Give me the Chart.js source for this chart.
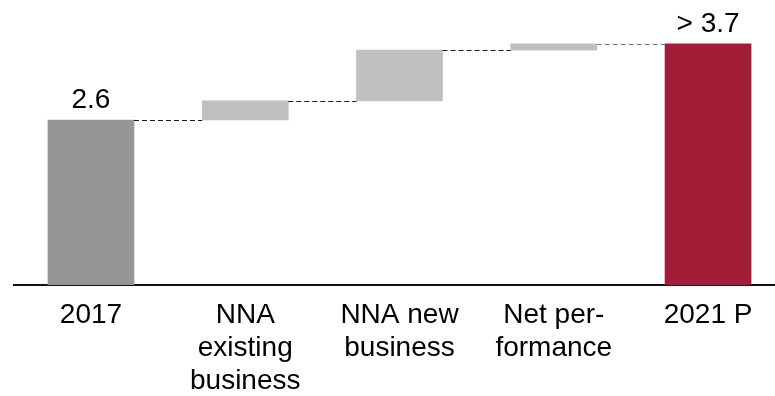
<!DOCTYPE html>
<html>
<head>
<meta charset="utf-8">
<script src="https://cdn.jsdelivr.net/npm/chart.js@4/dist/chart.umd.min.js"></script>
<style>
  html, body { margin: 0; padding: 0; background: #ffffff; }
  #wrap { width: 775px; height: 396px; }
</style>
</head>
<body>
<div id="wrap"><canvas id="chart" width="775" height="396"></canvas></div>
<script>
// Waterfall: starting volume, contributions, target volume
const categories = [
  ['2017'],
  ['NNA', 'existing', 'business'],
  ['NNA new', 'business'],
  ['Net per-', 'formance'],
  ['2021 P']
];
const startValue = 2.6;
const changes = [0.3, 0.8, 0.1];
const endValue = 3.8;
const valueLabels = ['2.6', '', '', '', '> 3.7'];
const barColors = ['#969696', '#bfbfbf', '#bfbfbf', '#bfbfbf', '#a11d38'];

// Floating segments [from, to] for every column
const segments = [[0, startValue]];
let running = startValue;
for (const c of changes) {
  segments.push([running, running + c]);
  running += c;
}
segments.push([0, endValue]);

const points = segments.map((s, i) => ({ x: i, y: s }));
const FONT = 'Liberation Sans, Arial, Helvetica, sans-serif';

// Dashed connectors between neighbouring columns and value labels above bars
const waterfallDecor = {
  id: 'waterfallDecor',
  afterDatasetsDraw(chart) {
    const ctx = chart.ctx;
    const meta = chart.getDatasetMeta(0);
    const ys = chart.scales.y;
    ctx.save();
    ctx.lineWidth = 1;
    ctx.setLineDash([5, 3]);
    for (let i = 0; i < segments.length - 1; i++) {
      const a = meta.data[i], b = meta.data[i + 1];
      const level = Math.max(segments[i][0], segments[i][1]);
      const py = Math.round(ys.getPixelForValue(level)) + 0.5;
      ctx.strokeStyle = i === segments.length - 2 ? '#777777' : '#1a1a1a';
      ctx.beginPath();
      ctx.moveTo(a.x + a.width / 2, py);
      ctx.lineTo(b.x - b.width / 2, py);
      ctx.stroke();
    }
    ctx.setLineDash([]);
    ctx.fillStyle = '#000000';
    ctx.font = '28px ' + FONT;
    ctx.textAlign = 'center';
    ctx.textBaseline = 'alphabetic';
    valueLabels.forEach((t, i) => {
      if (!t) return;
      const bar = meta.data[i];
      const top = ys.getPixelForValue(Math.max(segments[i][0], segments[i][1]));
      ctx.fillText(t, bar.x, top - 12);
    });
    ctx.restore();
  }
};

new Chart(document.getElementById('chart'), {
  type: 'bar',
  data: {
    datasets: [{
      data: points,
      backgroundColor: barColors,
      borderWidth: 0,
      borderSkipped: false,
      barThickness: 86
    }]
  },
  options: {
    responsive: false,
    animation: false,
    events: [],
    layout: { padding: { left: 14, right: 0, top: 0, bottom: 0 } },
    plugins: { legend: { display: false }, tooltip: { enabled: false } },
    scales: {
      x: {
        type: 'linear',
        offset: false,
        bounds: 'ticks',
        min: -0.499,
        max: 4.434,
        afterBuildTicks(scale) {
          scale.ticks = categories.map((_, i) => ({ value: i }));
        },
        afterFit(scale) { scale.height = 111; },
        grid: { display: false, drawTicks: false },
        border: { display: true, color: '#111111', width: 2 },
        ticks: {
          autoSkip: false,
          maxRotation: 0,
          padding: 14,
          color: '#000000',
          font: { family: FONT, size: 28, lineHeight: 1.18 },
          callback: (v) => categories[v]
        }
      },
      y: {
        display: false,
        min: 0,
        max: 4.49
      }
    }
  },
  plugins: [waterfallDecor]
});
</script>
</body>
</html>
